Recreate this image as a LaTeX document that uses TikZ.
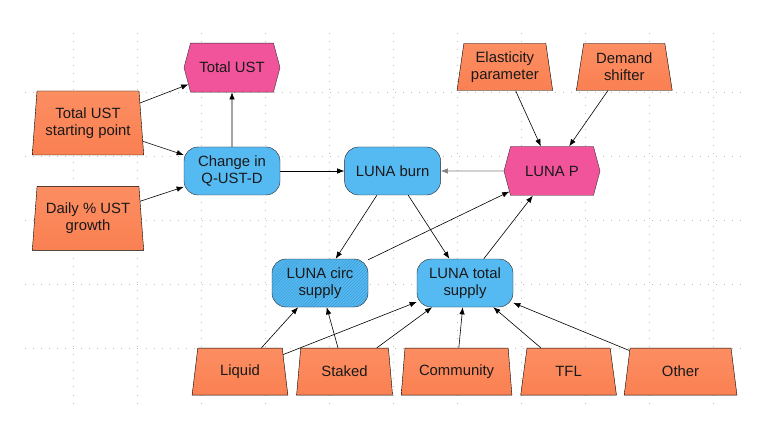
\documentclass[tikz,border=0pt]{standalone}
\usepackage{fontspec}
\setmainfont{Liberation Sans}
\usetikzlibrary{arrows.meta, positioning, shapes.geometric, shapes.symbols, patterns}

\definecolor{inorange}{RGB}{250,128,82}
\definecolor{inorangelt}{RGB}{252,142,98}
\definecolor{varblue}{RGB}{86,186,242}
\definecolor{hatchblue}{RGB}{58,150,210}
\definecolor{objpink}{RGB}{242,84,156}

\begin{document}
\begin{tikzpicture}[
    on grid,
    inbox/.style={trapezium, trapezium left angle=80, trapezium right angle=80, trapezium stretches=true,
                  draw=black, thin, top color=inorangelt, bottom color=inorange,
                  minimum width=3.36cm, minimum height=1.645cm, inner sep=1pt,
                  align=center, font=\fontsize{14.8}{17}\selectfont, text=black!90},
    tallbox/.style={inbox, trapezium left angle=83, trapezium right angle=83,
                    minimum width=3.92cm, minimum height=2.24cm},
    varbox/.style={rectangle, draw=black!85, thin, fill=varblue, rounded corners=0.49cm,
                   minimum width=3.36cm, minimum height=1.68cm, inner sep=1pt,
                   align=center, font=\fontsize{14.8}{17}\selectfont, text=black!90},
    objbox/.style={signal, signal to=east and west, signal pointer angle=150,
                   draw=black!80, thin, fill=objpink, minimum width=3.36cm, minimum height=1.715cm,
                   inner sep=1pt, font=\fontsize{14.8}{17}\selectfont, text=black!90},
    arr/.style={-{Latex[length=2.5mm, width=1.9mm]}, line width=0.6pt},
    arrgray/.style={arr, gray},
    gridline/.style={gray!50, line width=0.7pt, dash pattern=on 0.7pt off 7.3pt},
]
\useasboundingbox (0,0) rectangle (27.02,-15.19);

% ── Background grid ──
\foreach \gx in {0,...,10}
  \draw[gridline] (2.555+2.24*\gx,-1.155) -- (2.555+2.24*\gx,-14.245);
\foreach \gy in {0,...,4}
  \draw[gridline] (0.875,-3.22-2.24*\gy) -- (26.18,-3.22-2.24*\gy);

% ── UST side ──
\node[varbox] (chg) at (8.12,-5.985) {Change in\\Q-UST-D};
\node[objbox, above=3.62cm of chg] (ust) {Total UST};
\node[tallbox, above left=1.68cm and 5.04cm of chg] (start) {Total UST\\starting point};
\node[tallbox, below=3.34cm of start] (daily) {Daily \% UST\\growth};

% ── LUNA burn and price ──
\node[varbox, right=5.62cm of chg] (burn) {LUNA burn};
\node[objbox, right=5.58cm of burn] (price) {LUNA P};
\node[inbox, above left=3.64cm and 1.65cm of price] (elast) {Elasticity\\parameter};
\node[inbox, right=4.18cm of elast] (demand) {Demand\\shifter};

% ── LUNA supply ──
\node[varbox, below left=3.92cm and 2.54cm of burn, preaction={fill=varblue},
      pattern=north east lines, pattern color=hatchblue] (circ) {LUNA circ\\supply};
\node[varbox, right=5.075cm of circ] (total) {LUNA total\\supply};

% ── Supply holders ──
\node[inbox, below left=3.10cm and 2.8cm of circ] (liquid) {Liquid};
\node[inbox, right=3.66cm of liquid] (staked) {Staked};
\node[inbox, right=3.92cm of staked, minimum width=3.885cm] (community) {Community};
\node[inbox, right=3.92cm of community] (tfl) {TFL};
\node[inbox, right=3.92cm of tfl, minimum width=3.955cm] (other) {Other};

% ── Influences ──
\draw[arr] (start) -- (ust);
\draw[arr] (start) -- (chg);
\draw[arr] (daily) -- (chg);
\draw[arr] (chg) -- (ust);
\draw[arr] (chg) -- (burn);
\draw[arrgray] (price) -- (burn);
\draw[arr] (elast) -- (price);
\draw[arr] (demand) -- (price);
\draw[arr] (burn) -- (circ);
\draw[arr] (burn) -- (total);
\draw[arr] (circ) -- (price);
\draw[arr] (total) -- (price);

\draw[arr] (liquid) -- (circ);
\draw[arr] (liquid) -- (total);
\draw[arr] (staked) -- (circ);
\draw[arr] (staked) -- (total);
\draw[arr] (community) -- (total);
\draw[arr] (tfl) -- (total);
\draw[arr] (other) -- (total);

\end{tikzpicture}
\end{document}
